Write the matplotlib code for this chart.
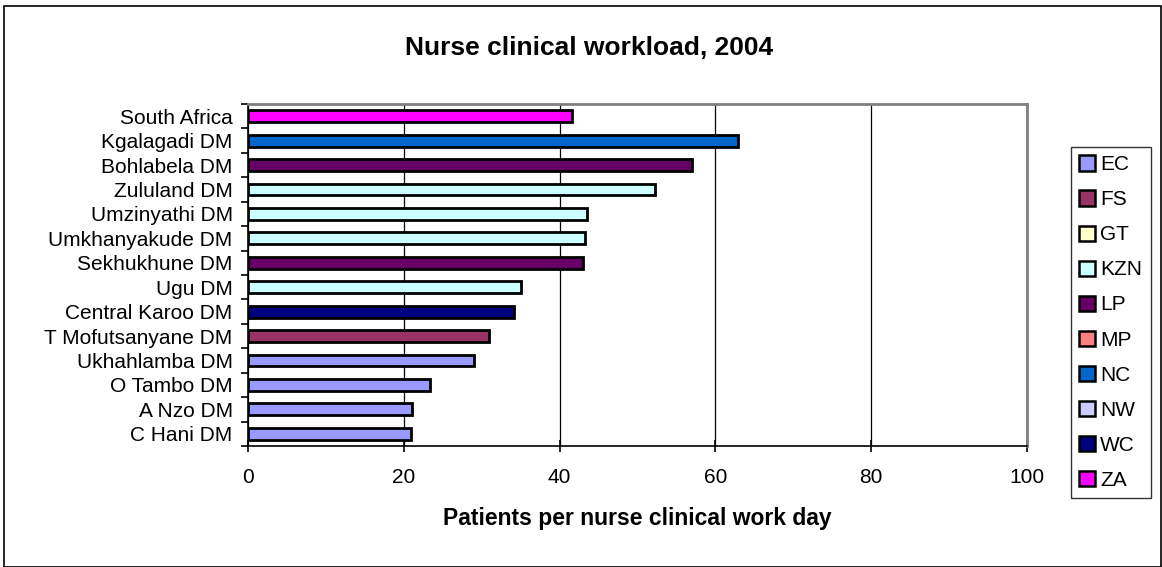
import matplotlib
matplotlib.use("Agg")
import matplotlib.pyplot as plt
from matplotlib.patches import Patch, Rectangle

plt.rcParams['font.family'] = ['Liberation Sans', 'DejaVu Sans']

categories = ["C Hani DM", "A Nzo DM", "O Tambo DM", "Ukhahlamba DM", "T Mofutsanyane DM",
              "Central Karoo DM", "Ugu DM", "Sekhukhune DM", "Umkhanyakude DM",
              "Umzinyathi DM", "Zululand DM", "Bohlabela DM", "Kgalagadi DM", "South Africa"]
values = [20.9, 21.0, 23.3, 29.0, 30.9, 34.1, 35.1, 43.0, 43.3, 43.5, 52.3, 57.0, 62.9, 41.6]
provinces = ["EC", "EC", "EC", "EC", "FS", "WC", "KZN", "LP", "KZN", "KZN", "KZN", "LP", "NC", "ZA"]
legend_labels = ["EC", "FS", "GT", "KZN", "LP", "MP", "NC", "NW", "WC", "ZA"]
legend_colors = ["#9999FF", "#993366", "#FFFFCC", "#CCFFFF", "#660066",
                 "#FF8080", "#0066CC", "#CCCCFF", "#000080", "#FF00FF"]
xticks = [0, 20, 40, 60, 80, 100]

cmap = dict(zip(legend_labels, legend_colors))

W, H = 1162, 567
fig = plt.figure(figsize=(W / 100, H / 100), dpi=100)
ax = fig.add_axes([248 / W, 1 - 446 / H, (1027 - 248) / W, (446 - 104) / H])

ypos = list(range(len(categories)))
ax.barh(ypos, values, height=0.48, color=[cmap[p] for p in provinces],
        edgecolor="black", linewidth=2.0, zorder=3)

ax.set_xlim(0, 100)
ax.set_ylim(-0.5, len(categories) - 0.5)
ax.set_xticks(xticks)
ax.set_xticklabels([str(t) for t in xticks], fontsize=15)
ax.set_yticks(ypos)
ax.set_yticklabels(categories, fontsize=15)
ax.tick_params(axis='y', length=0, pad=11)
ax.set_yticks([i - 0.5 for i in range(len(categories) + 1)], minor=True)
ax.tick_params(axis='y', which='minor', length=5, width=1.2, color='black', direction='out')
ax.tick_params(axis='x', length=8, width=1.2, direction='inout', pad=12)

ax.grid(axis='x', color='black', linewidth=0.9, zorder=0)
for s in ['top', 'right']:
    ax.spines[s].set_color('#808080')
    ax.spines[s].set_linewidth(2)
for s in ['left', 'bottom']:
    ax.spines[s].set_color('black')
    ax.spines[s].set_linewidth(1.2)

ax.set_xlabel("Patients per nurse clinical work day", fontsize=16.5, fontweight='bold', labelpad=14)
fig.text(589 / W, 1 - 48 / H, "Nurse clinical workload, 2004",
         fontsize=19, fontweight='bold', ha='center', va='center')

handles = [Patch(facecolor=c, edgecolor='black', linewidth=1.8) for c in legend_colors]
leg = fig.legend(handles, legend_labels, loc='upper left',
                 bbox_to_anchor=(1071 / W, 1 - 147 / H), fontsize=15,
                 frameon=True, fancybox=False, edgecolor='black',
                 handlelength=0.75, handleheight=0.75, handletextpad=0.25,
                 labelspacing=0.77, borderpad=0.4, borderaxespad=0)
leg.get_frame().set_linewidth(1.0)

fig.patches.append(Rectangle((4 / W, 0), 1 - 5 / W, 1 - 6 / H, transform=fig.transFigure,
                             fill=False, edgecolor='black', linewidth=1.2))

fig.savefig("out.png", dpi=100)
